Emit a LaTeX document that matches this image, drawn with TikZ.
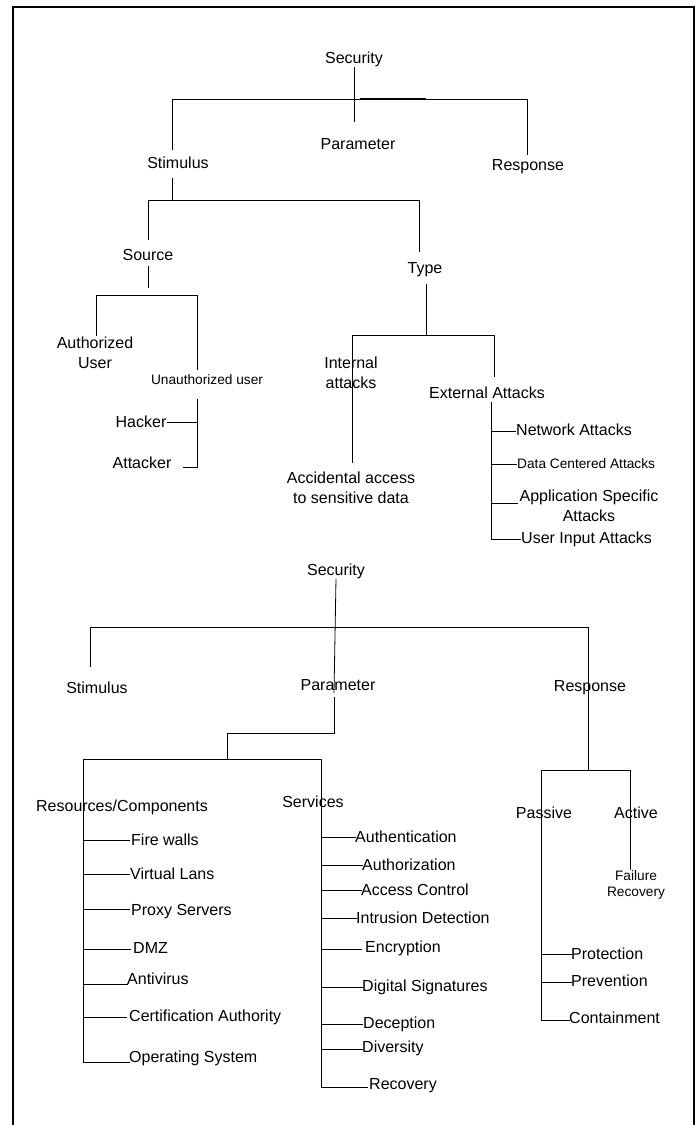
\documentclass[tikz,border=0pt]{standalone}
\usepackage{fontspec}
\setmainfont{Liberation Sans}
\begin{document}
\begin{tikzpicture}[x=1pt,y=-1pt]
                \tikzstyle{every node}+=[inner sep=0pt,align=center,font=\fontsize{16}{20.5}\selectfont]
                \tikzstyle{small}=[font=\fontsize{13.7}{16.5}\selectfont]
                \tikzstyle{item}=[anchor=west]
                \tikzstyle{wire}=[black,line width=0.8pt]
                \useasboundingbox (0,0) rectangle (699,1125);
                \draw [black,line width=2.4pt] (13,1125) -- (13,7) -- (694,7) -- (694,1125);
                \draw (354,59) node (sec1) {Security};
                \draw (358,144) node (par1) {Parameter};
                \draw (178,163) node (stim1) {Stimulus};
                \draw (528,167) node (resp1) {Response};
                \draw (148,255) node (src) {Source};
                \draw (425,270) node (type) {Type};
                \coordinate (b1a) at (172,99);
                \coordinate (b1b) at (527,99);
                \draw [wire] (sec1.south) -- (354,122);
                \draw [wire] (b1a) -- (b1b);
                \draw [wire,line width=1.7pt] (360,99) -- (426,99);
                \draw [wire] (b1a) -- ++(0,51);
                \draw [wire] (b1b) -- ++(0,56);
                \coordinate (b2a) at (148,200);
                \coordinate (b2b) at (419,200);
                \draw [wire] (172,178) -- (172,200);
                \draw [wire] (b2a) -- (b2b);
                \draw [wire] (b2a) -- ++(0,40);
                \draw [wire] (b2b) -- ++(0,52);
                \coordinate (b3a) at (96,295);
                \coordinate (b3b) at (197,295);
                \draw [wire] (148,266) -- (148,288);
                \draw [wire] (b3a) -- (b3b);
                \draw [wire] (b3a) -- ++(0,41);
                \draw [wire] (b3b) -- ++(0,75);
                \draw (95,353) node (auth) {Authorized\\User};
                \draw (207,380) node [small] (unauth) {Unauthorized user};
                \draw (141,422) node (hack) {Hacker};
                \draw (142,463) node (att) {Attacker};
                \coordinate (uv) at (197,399);
                \draw [wire] (uv) -- (197,467) -- (183,467);
                \draw [wire] (hack.east) -- (197,422);
                \coordinate (b4a) at (352,335);
                \coordinate (b4b) at (494,335);
                \draw [wire] (426,284) -- (426,335);
                \draw [wire] (b4a) -- (b4b);
                \draw [wire] (b4a) -- ++(0,128);
                \draw [wire] (b4b) -- ++(0,42);
                \draw (351,373) node (int) {Internal\\attacks};
                \draw (487,393) node (ext) {External Attacks};
                \draw (351,488) node (acc) {Accidental access\\to sensitive data};
                \draw (516,430) node [item] (net) {Network Attacks};
                \draw (517,464) node [item,small] (data) {Data Centered Attacks};
                \draw (589,506) node (app) {Application Specific\\Attacks};
                \draw (521,539) node [item] (ui) {User Input Attacks};
                \coordinate (ev) at (491,402);
                \draw [wire] (ev) -- (491,539);
                \draw [wire] (491,431) -- (net.west |- 0,431);
                \draw [wire] (491,464) -- (data.west);
                \draw [wire] (491,503) -- (518,503);
                \draw [wire] (491,539) -- (ui.west);
                \draw (336,571) node (sec2) {Security};
                \draw (97,688) node (stim2) {Stimulus};
                \draw (338,685) node (par2) {Parameter};
                \coordinate (c1a) at (90,627);
                \coordinate (c1b) at (588,627);
                \draw [wire] (sec2.south) -- (334,693);
                \draw [wire] (c1a) -- (c1b);
                \draw [wire] (c1a) -- ++(0,40);
                \draw [wire] (c1b) -- (588,770);
                \draw (590,688) node (resp2) {Response};
                \coordinate (c2a) at (227,733);
                \draw [wire] (334,697) -- (334,733) -- (c2a) -- (227,759);
                \coordinate (c3a) at (83,759);
                \coordinate (c3b) at (321,759);
                \draw [wire] (c3a) -- (c3b);
                \draw [wire] (c3a) -- (83,1062);
                \draw [wire] (c3b) -- (321,1087);
                \draw (122,807) node (rc) {Resources/Components};
                \draw (313,802) node (srv) {Services};
                \foreach \ly/\lx/\tx/\ty/\txt [count=\i] in {840/130/131/840/Fire walls, 874/130/130/874/Virtual Lans, 909/130/131/912/Proxy Servers, 949/131/133/948/DMZ, 984/128/127/979/Antivirus, 1017/127/129/1017/Certification Authority, 1062/130/129/1058/Operating System}
                {
                \draw [wire] (83,\ly) -- (\lx,\ly);
                \draw (\tx,\ty) node [item] (res\i) {\txt};
                }
                \foreach \ly/\lx/\tx/\ty/\txt [count=\i] in {837/356/355/837/Authentication, 865/363/362/865/Authorization, 890/362/361/890/Access Control, 918/357/356/918/Intrusion Detection, 949/362/365/948/Encryption, 987/363/362/987/Digital Signatures, 1024/363/363/1024/Deception, 1049/363/362/1048/Diversity, 1087/368/369/1086/Recovery}
                {
                \draw [wire] (321,\ly) -- (\lx,\ly);
                \draw (\tx,\ty) node [item] (svc\i) {\txt};
                }
                \coordinate (d1a) at (541,770);
                \coordinate (d1b) at (630,770);
                \draw [wire] (d1a) -- (d1b);
                \draw [wire] (d1a) -- (541,1020);
                \draw [wire] (d1b) -- (630,870);
                \draw (544,813) node (pas) {Passive};
                \draw (636,813) node (act) {Active};
                \draw (636,885) node [small] (fail) {Failure\\Recovery};
                \foreach \ly/\lx/\tx/\ty/\txt [count=\i] in {954/572/571/954/Protection, 982/572/571/981/Prevention, 1020/570/569/1018/Containment}
                {
                \draw [wire] (541,\ly) -- (\lx,\ly);
                \draw (\tx,\ty) node [item] (pv\i) {\txt};
                }
            \end{tikzpicture}
\end{document}
